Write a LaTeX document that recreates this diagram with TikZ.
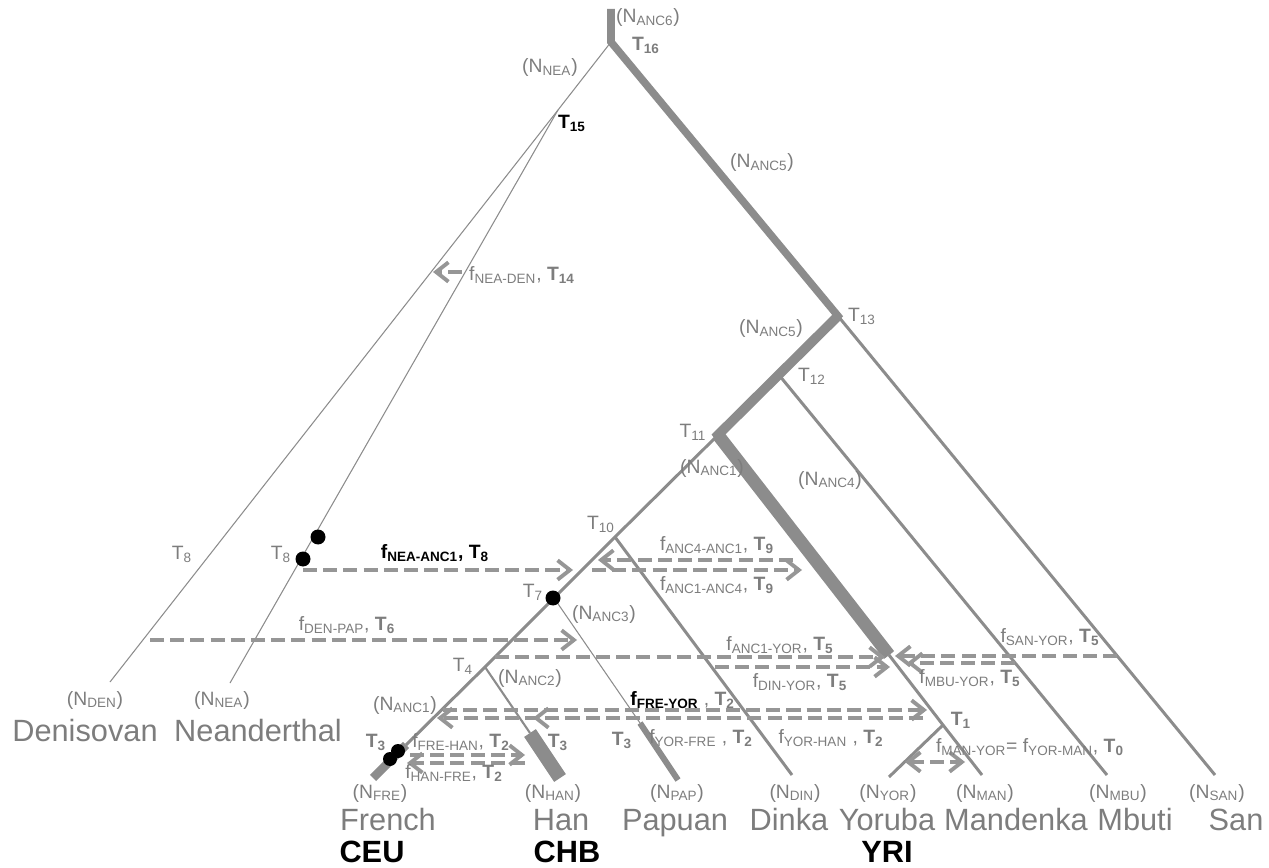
\documentclass[tikz,border=0pt]{standalone}
\usepackage{fontspec}
\setmainfont{Liberation Sans}
\usetikzlibrary{arrows.meta}
\definecolor{txtgray}{RGB}{125,125,125}
\definecolor{linegray}{RGB}{140,140,140}
\definecolor{dashgray}{RGB}{150,150,150}
\newcommand\sbs[1]{\textsubscript{#1}}
\begin{document}
\begin{tikzpicture}[x=0.02cm,y=-0.02cm,
  lbl/.style={text=txtgray,font=\fontsize{11}{13}\selectfont,inner sep=0pt},
  blk/.style={text=black,font=\bfseries\fontsize{11}{13}\selectfont,inner sep=0pt},
  big/.style={text=txtgray,font=\fontsize{17.5}{20}\selectfont,inner sep=0pt,anchor=base},
  pop/.style={text=black,font=\bfseries\fontsize{17.5}{20}\selectfont,inner sep=0pt,anchor=base},
  br/.style={draw=linegray,line width=1.7pt},
  hair/.style={draw=linegray,line width=0.6pt},
  mig/.style={draw=dashgray,line width=2.2pt,dash pattern=on 8pt off 3.5pt,
    -{Straight Barb[length=7pt,width=11pt]}},
  migb/.style={mig,{Straight Barb[length=7pt,width=11pt]}-{Straight Barb[length=7pt,width=11pt]}}
]
\useasboundingbox (0,0) rectangle (1269,868);
% ---------- tree coordinates ----------
\coordinate (R0) at (611,9);
\coordinate (R) at (611,42);
\coordinate (T13) at (838,316);
\coordinate (T12) at (779,375);
\coordinate (T11) at (718,435);
\coordinate (A4) at (889,655);
\coordinate (T1) at (943,725);
\coordinate (T10) at (615,537);
\coordinate (T7) at (554,598);
\coordinate (T4) at (485,667);
\coordinate (FT) at (406,745);
\coordinate (Fend) at (373,778);
\coordinate (HT) at (530,733);
\coordinate (Hend) at (560,778);
\coordinate (PT) at (640,723);
\coordinate (Pend) at (678,780);
\coordinate (Dend) at (792,775);
\coordinate (Yend) at (889,777);
\coordinate (Mend) at (982,775);
\coordinate (MBend) at (1107,775);
\coordinate (Send) at (1215,775);
\coordinate (T15) at (558,110);
\coordinate (DENend) at (110,682);
\coordinate (NEAend) at (230,683);
% ---------- thin branches ----------
\draw[hair] (R) -- (T15) -- (DENend);
\draw[hair] (T15) -- (NEAend);
\draw[br] (T13) -- (Send);
\draw[br] (T12) -- (MBend);
\draw[br] (A4) -- (T1) -- (Mend);
\draw[br] (T1) -- (Yend);
\draw[br] (T11) -- (T10) -- (T7) -- (T4) -- (FT);
\draw[br] (T10) -- (Dend);
\draw[hair] (T7) -- (PT);
\draw[br,line width=1.2pt] (T4) -- (HT);
% ---------- thick branches ----------
\draw[draw=linegray,line width=4.3pt,line join=miter] (R0) -- (R) -- (T13) -- (T11);
\draw[draw=linegray,line width=5.5pt,line join=miter] (T13) -- (T11) -- (A4);
\draw[draw=linegray,line width=7.3pt] (T11) -- (A4);
\draw[draw=linegray,line width=5pt] (FT) -- (Fend);
\draw[draw=linegray,line width=8pt] (HT) -- (Hend);
\draw[draw=linegray,line width=3.4pt] (PT) -- (Pend);
% ---------- migration arrows ----------
\coordinate (m1a) at (303,570); \coordinate (m1b) at (573,570);
\draw[mig] (m1a) -- (m1b);
\coordinate (m2a) at (793,560); \coordinate (m2b) at (598,560);
\draw[mig] (m2a) -- (m2b);
\coordinate (m3a) at (592,570); \coordinate (m3b) at (802,570);
\draw[mig] (m3a) -- (m3b);
\coordinate (m4a) at (150,640); \coordinate (m4b) at (577,640);
\draw[mig] (m4a) -- (m4b);
\coordinate (m5a) at (495,657); \coordinate (m5b) at (885,657);
\draw[mig] (m5a) -- (m5b);
\coordinate (m6a) at (715,667); \coordinate (m6b) at (890,667);
\draw[mig] (m6a) -- (m6b);
\coordinate (m7a) at (1117,656); \coordinate (m7b) at (895,656);
\draw[mig] (m7a) -- (m7b);
\coordinate (m8a) at (1015,663); \coordinate (m8b) at (907,663);
\draw[mig] (m8a) -- (m8b);
\coordinate (m9a) at (443,710); \coordinate (m9b) at (927,710);
\draw[mig] (m9a) -- (m9b);
\coordinate (m10a) at (923,718); \coordinate (m10b) at (437,718);
\draw[mig] (m10a) -- (m10b);
\coordinate (m11b) at (533,718);
\draw[mig] (m10a) -- (m11b);
\coordinate (m12a) at (410,755); \coordinate (m12b) at (525,755);
\draw[mig] (m12a) -- (m12b);
\coordinate (m13a) at (525,763); \coordinate (m13b) at (407,763);
\draw[mig] (m13a) -- (m13b);
\coordinate (m14a) at (462,272); \coordinate (m14b) at (433,272);
\draw[mig] (m14a) -- (m14b);
\coordinate (m15a) at (905,762); \coordinate (m15b) at (965,762);
\draw[migb] (m15a) -- (m15b);
% ---------- sample dots ----------
\fill (318,537) circle (7.5);
\fill (303,559) circle (7.5);
\fill (553,598) circle (7.5);
\fill (398,751) circle (7);
\fill (390,759) circle (7);
% ---------- labels ----------
\node[lbl] (nanc6) at (648,18) {(N\sbs{ANC6})};
\node[lbl] (t16) at (646,45) {\textbf{T\sbs{16}}};
\node[lbl] (nnea1) at (550,68) {(N\sbs{NEA})};
\node[blk] (t15) at (572,123) {T\sbs{15}};
\node[lbl] (nanc5a) at (762,163) {(N\sbs{ANC5})};
\node[lbl] (t13) at (862,316) {T\sbs{13}};
\node[lbl] (nanc5b) at (771,329) {(N\sbs{ANC5})};
\node[lbl] (t12) at (812,376) {T\sbs{12}};
\node[lbl] (t11) at (693,432) {T\sbs{11}};
\node[lbl] (nanc1a) at (712,468) {(N\sbs{ANC1})};
\node[lbl] (nanc4) at (830,480) {(N\sbs{ANC4})};
\node[lbl] (t10) at (601,524) {T\sbs{10}};
\node[lbl] (fa41) at (717,545) {f\sbs{ANC4-ANC1}, \textbf{T\sbs{9}}};
\node[lbl] (fa14) at (717,585) {f\sbs{ANC1-ANC4}, \textbf{T\sbs{9}}};
\node[lbl] (t7) at (533,592) {T\sbs{7}};
\node[lbl] (nanc3) at (604,614) {(N\sbs{ANC3})};
\node[blk] (fnea) at (435,553) {f\sbs{NEA-ANC1}, T\sbs{8}};
\node[lbl] (t8a) at (281,554) {T\sbs{8}};
\node[lbl] (t8b) at (182,554) {T\sbs{8}};
\node[lbl] (fnd) at (522,275) {f\sbs{NEA-DEN}, \textbf{T\sbs{14}}};
\node[lbl] (fdp) at (347,625) {f\sbs{DEN-PAP}, \textbf{T\sbs{6}}};
\node[lbl] (fay) at (780,645) {f\sbs{ANC1-YOR}, \textbf{T\sbs{5}}};
\node[lbl] (fdy) at (800,682) {f\sbs{DIN-YOR}, \textbf{T\sbs{5}}};
\node[lbl] (fsy) at (1050,637) {f\sbs{SAN-YOR}, \textbf{T\sbs{5}}};
\node[lbl] (fmy) at (970,678) {f\sbs{MBU-YOR}, \textbf{T\sbs{5}}};
\node[lbl] (t4) at (463,666) {T\sbs{4}};
\node[lbl] (nanc2) at (530,678) {(N\sbs{ANC2})};
\node[lbl] (nanc1b) at (405,705) {(N\sbs{ANC1})};
\node[lbl,anchor=west] (ffy) at (630,700) {\textcolor{black}{\textbf{f\sbs{FRE-YOR}}} , \textbf{T\sbs{2}}};
\node[lbl] (t1) at (961,720) {\textbf{T\sbs{1}}};
\node[lbl] (t3a) at (376,742) {\textbf{T\sbs{3}}};
\node[lbl] (t3b) at (558,742) {\textbf{T\sbs{3}}};
\node[lbl] (t3c) at (622,740) {\textbf{T\sbs{3}}};
\node[lbl] (ffh) at (461,742) {f\sbs{FRE-HAN}, \textbf{T\sbs{2}}};
\node[lbl] (fyf) at (701,738) {f\sbs{YOR-FRE} , \textbf{T\sbs{2}}};
\node[lbl] (fyh) at (831,738) {f\sbs{YOR-HAN} , \textbf{T\sbs{2}}};
\node[lbl] (fmn) at (1030,747) {f\sbs{MAN-YOR}= f\sbs{YOR-MAN}, \textbf{T\sbs{0}}};
\node[lbl] (fhf) at (454,773) {f\sbs{HAN-FRE}, \textbf{T\sbs{2}}};
% tips
\node[lbl] (nden) at (95,700) {(N\sbs{DEN})};
\node[lbl] (nnea) at (222,700) {(N\sbs{NEA})};
\node[lbl] (nfre) at (380,793) {(N\sbs{FRE})};
\node[lbl] (nhan) at (553,793) {(N\sbs{HAN})};
\node[lbl] (npap) at (677,793) {(N\sbs{PAP})};
\node[lbl] (ndin) at (795,793) {(N\sbs{DIN})};
\node[lbl] (nyor) at (888,793) {(N\sbs{YOR})};
\node[lbl] (nman) at (985,793) {(N\sbs{MAN})};
\node[lbl] (nmbu) at (1118,793) {(N\sbs{MBU})};
\node[lbl] (nsan) at (1217,793) {(N\sbs{SAN})};
\node[big] (den) at (85,741) {Denisovan};
\node[big] (nea) at (258,741) {Neanderthal};
\node[big] (fre) at (388,830) {French};
\node[big] (han) at (561,830) {Han};
\node[big] (pap) at (675,830) {Papuan};
\node[big] (din) at (789,830) {Dinka};
\node[big] (yor) at (887,830) {Yoruba};
\node[big] (man) at (1016,830) {Mandenka};
\node[big] (mbu) at (1135,830) {Mbuti};
\node[big] (san) at (1236,830) {San};
\node[pop] (ceu) at (372,862) {CEU};
\node[pop] (chb) at (567,862) {CHB};
\node[pop] (yri) at (887,862) {YRI};
\end{tikzpicture}
\end{document}
